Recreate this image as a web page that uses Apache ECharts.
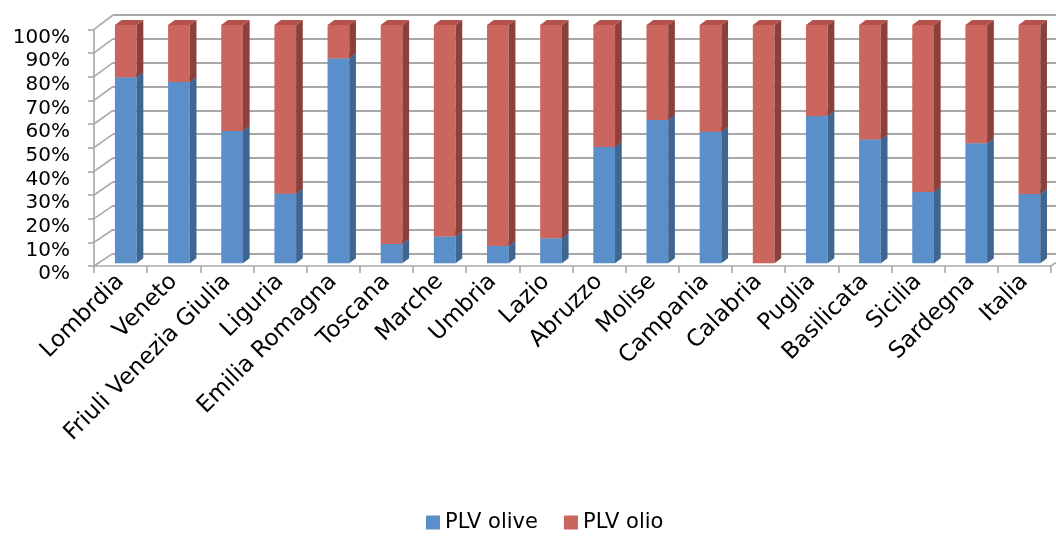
<!DOCTYPE html>
<html>
<head>
<meta charset="utf-8">
<script src="https://cdn.jsdelivr.net/npm/echarts@6/dist/echarts.min.js"></script>
<style>
  html, body { margin: 0; padding: 0; background: #ffffff; }
  #chart { width: 1056px; height: 536px; }
</style>
</head>
<body>
<div id="chart"></div>
<script>
// Regions and the share (%) of gross saleable production from olives vs. oil
const categories = ['Lombrdia', 'Veneto', 'Friuli Venezia Giulia', 'Liguria', 'Emilia Romagna',
  'Toscana', 'Marche', 'Umbria', 'Lazio', 'Abruzzo', 'Molise', 'Campania', 'Calabria',
  'Puglia', 'Basilicata', 'Sicilia', 'Sardegna', 'Italia'];
const oliveValues = [78.0, 76.1, 55.5, 29.2, 86.0, 8.1, 11.2, 7.3, 10.5, 48.8, 60.1, 55.2, 0.0, 61.8, 52.0, 29.9, 50.4, 29.1];
const olioValues  = [22.0, 23.9, 44.5, 70.8, 14.0, 91.9, 88.8, 92.7, 89.5, 51.2, 39.9, 44.8, 100.0, 38.2, 48.0, 70.1, 49.6, 70.9];
const seriesNames = ['PLV olive', 'PLV olio'];
const percentTicks = [0, 10, 20, 30, 40, 50, 60, 70, 80, 90, 100];

const FONT = 'DejaVu Sans';
const LINE = '#a8a8a8';

// face colours: front, side, top
const faces = [
  { front: '#5b8fca', side: '#3f6591', top: '#4f7fb8' },
  { front: '#cb665e', side: '#8c403b', top: '#b4514a' }
];

// 3D column drawn as a front rectangle plus side and top faces
function columnRenderer(face) {
  return function (params, api) {
    const i = api.value(0);
    const lo = api.coord([i, api.value(1)]);
    const hi = api.coord([i, api.value(2)]);
    const w = 21.7, dx = 6.7, dy = 5;
    const x = lo[0] - w / 2, yb = lo[1], yt = hi[1];
    if (yb - yt <= 0.01) return null;
    return {
      type: 'group',
      children: [
        { type: 'rect', shape: { x: x, y: yt, width: w, height: yb - yt }, style: { fill: face.front } },
        { type: 'polygon', shape: { points: [[x + w, yb], [x + w + dx, yb - dy], [x + w + dx, yt - dy], [x + w, yt]] }, style: { fill: face.side } },
        { type: 'polygon', shape: { points: [[x, yt], [x + w, yt], [x + w + dx, yt - dy], [x + dx, yt - dy]] }, style: { fill: face.top } }
      ]
    };
  };
}

// depth lines of the left wall (one per tick) and the right floor edge
function depthRenderer(params, api) {
  const v = api.value(0);
  const cs = params.coordSys;
  const y = api.coord([0, v])[1];
  const ddx = 19, ddy = 12.7 + 1.6 * v / 100;
  const children = [
    { type: 'line', shape: { x1: cs.x, y1: y, x2: cs.x + ddx, y2: y - ddy }, style: { stroke: LINE, lineWidth: 1.6 } }
  ];
  if (v === 0) {
    const xr = cs.x + cs.width;
    children.push({ type: 'line', shape: { x1: xr, y1: y, x2: xr + ddx, y2: y - ddy }, style: { stroke: LINE, lineWidth: 1.6 } });
  }
  return { type: 'group', children: children };
}

const oliveData = categories.map((c, i) => [i, 0, oliveValues[i]]);
const olioData = categories.map((c, i) => [i, oliveValues[i], oliveValues[i] + olioValues[i]]);

const chart = echarts.init(document.getElementById('chart'), null, { renderer: 'canvas' });

chart.setOption({
  animation: false,
  backgroundColor: '#ffffff',
  grid: [
    // front plane: axes, ticks and labels
    { left: 94, top: 29.3, width: 957, height: 236.7 },
    // back wall: gridlines
    { left: 113, top: 15, width: 957, height: 238.3 },
    // column fronts
    { left: 99.2, top: 25, width: 957, height: 238.3 }
  ],
  xAxis: [
    {
      gridIndex: 0, type: 'category', data: categories, boundaryGap: true,
      axisLine: { show: true, lineStyle: { color: LINE, width: 1.6 } },
      axisTick: { show: true, length: 7, lineStyle: { color: LINE, width: 1.6 } },
      axisLabel: { rotate: 45, interval: 0, margin: 12, fontFamily: FONT, fontSize: 23, color: '#000' },
      splitLine: { show: false }
    },
    { gridIndex: 1, type: 'category', data: categories, show: false },
    { gridIndex: 2, type: 'category', data: categories, show: false }
  ],
  yAxis: [
    {
      gridIndex: 0, type: 'value', min: 0, max: 100, interval: 10,
      axisLine: { show: true, lineStyle: { color: LINE, width: 1.6 } },
      axisTick: { show: true, length: 6, lineStyle: { color: LINE, width: 1.6 } },
      axisLabel: { margin: 24, fontFamily: FONT, fontSize: 20, color: '#000', verticalAlign: 'top', lineHeight: 16, formatter: '{value}%' },
      splitLine: { show: false }
    },
    {
      gridIndex: 1, type: 'value', min: 0, max: 100, interval: 10,
      axisLine: { show: false }, axisTick: { show: false }, axisLabel: { show: false },
      splitLine: { show: true, lineStyle: { color: LINE, width: 1.8 } }
    },
    { gridIndex: 2, type: 'value', min: 0, max: 100, show: false }
  ],
  legend: {
    data: seriesNames,
    left: 421, top: 507,
    icon: 'rect', itemWidth: 14, itemHeight: 14, itemGap: 26,
    textStyle: { fontFamily: FONT, fontSize: 21, color: '#000' }
  },
  series: [
    {
      name: 'walls', type: 'custom', xAxisIndex: 0, yAxisIndex: 0,
      data: percentTicks.map(v => [v]),
      encode: { y: 0 }, renderItem: depthRenderer, silent: true, z: 1
    },
    {
      name: seriesNames[0], type: 'custom', xAxisIndex: 2, yAxisIndex: 2,
      data: oliveData, encode: { x: 0, y: [1, 2] },
      itemStyle: { color: faces[0].front },
      renderItem: columnRenderer(faces[0]), z: 3
    },
    {
      name: seriesNames[1], type: 'custom', xAxisIndex: 2, yAxisIndex: 2,
      data: olioData, encode: { x: 0, y: [1, 2] },
      itemStyle: { color: faces[1].front },
      renderItem: columnRenderer(faces[1]), z: 3
    }
  ]
});
</script>
</body>
</html>
